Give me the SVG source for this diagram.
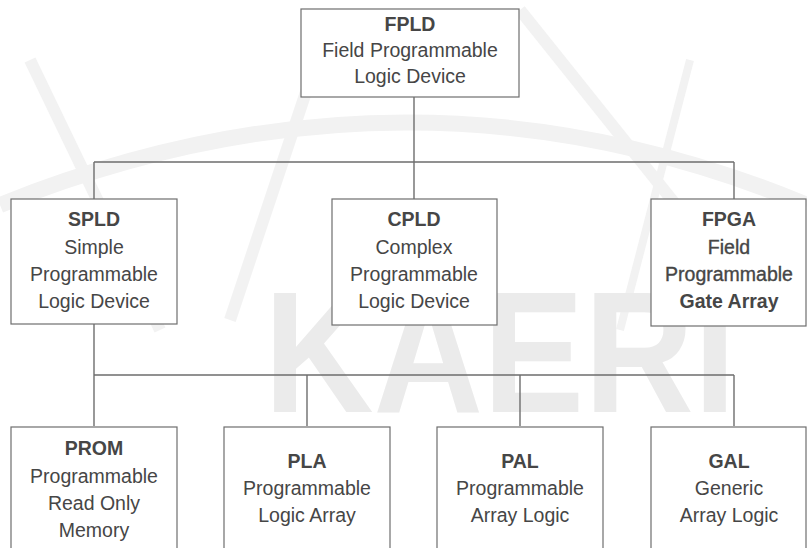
<svg xmlns="http://www.w3.org/2000/svg" width="807" height="548" viewBox="0 0 807 548">
<style>
.box{fill:#ffffff;stroke:#6e6e6e;stroke-width:1.2}
.wire{fill:none;stroke:#6e6e6e;stroke-width:1.4}
text{font-family:"Liberation Sans",Arial,sans-serif;font-size:19.5px;fill:#464646;text-anchor:middle}
.t{font-weight:bold}
.h{stroke:#464646;stroke-width:0.35}
.wm{fill:none;stroke:#f2f2f2}
</style>
<rect width="807" height="548" fill="#ffffff"/>
<g id="watermark">
<path class="wm" stroke-width="16" d="M0,205 Q410,40 807,205"/>
<path class="wm" stroke-width="12" d="M30,60 L160,330"/>
<path class="wm" stroke-width="12" d="M330,20 L230,320"/>
<path class="wm" stroke-width="12" d="M520,10 L720,260"/>
<path class="wm" stroke-width="8" d="M690,60 L620,330"/>
<text x="500" y="412" font-weight="bold" style="fill:#ebebeb;font-size:172px" textLength="472" lengthAdjust="spacingAndGlyphs">KAERI</text>
</g>
<g id="connectors">
<path class="wire" d="M414,97 V199 M94,162 H734 M94,162 V199 M734,162 V199"/>
<path class="wire" d="M94,324 V426 M94,375 H734 M307,375 V426 M520,375 V426 M734,375 V426"/>
</g>
<g id="FPLD">
<rect class="box" x="301" y="9" width="218" height="88"/>
<text class="t" x="410" y="31">FPLD</text>
<text x="410" y="57">Field Programmable</text>
<text x="410" y="83">Logic Device</text>
</g>
<g id="SPLD">
<rect class="box" x="11" y="199" width="166" height="125"/>
<text class="t" x="94" y="226">SPLD</text>
<text x="94" y="254">Simple</text>
<text x="94" y="281">Programmable</text>
<text x="94" y="308">Logic Device</text>
</g>
<g id="CPLD">
<rect class="box" x="332" y="199" width="165" height="126"/>
<text class="t" x="414" y="226">CPLD</text>
<text x="414" y="254">Complex</text>
<text x="414" y="281">Programmable</text>
<text x="414" y="308">Logic Device</text>
</g>
<g id="FPGA">
<rect class="box" x="651" y="199" width="155" height="127"/>
<text class="t" x="729" y="226">FPGA</text>
<text class="h" x="729" y="254">Field</text>
<text class="h" x="729" y="281">Programmable</text>
<text class="t" x="729" y="308">Gate Array</text>
</g>
<g id="PROM">
<rect class="box" x="11" y="427" width="166" height="140"/>
<text class="t" x="94" y="455">PROM</text>
<text x="94" y="483">Programmable</text>
<text x="94" y="510">Read Only</text>
<text x="94" y="537">Memory</text>
</g>
<g id="PLA">
<rect class="box" x="224" y="427" width="166" height="140"/>
<text class="t" x="307" y="468">PLA</text>
<text x="307" y="495">Programmable</text>
<text x="307" y="522">Logic Array</text>
</g>
<g id="PAL">
<rect class="box" x="437" y="427" width="166" height="140"/>
<text class="t" x="520" y="468">PAL</text>
<text x="520" y="495">Programmable</text>
<text x="520" y="522">Array Logic</text>
</g>
<g id="GAL">
<rect class="box" x="651" y="427" width="155" height="140"/>
<text class="t" x="729" y="468">GAL</text>
<text x="729" y="495">Generic</text>
<text x="729" y="522">Array Logic</text>
</g>
</svg>
